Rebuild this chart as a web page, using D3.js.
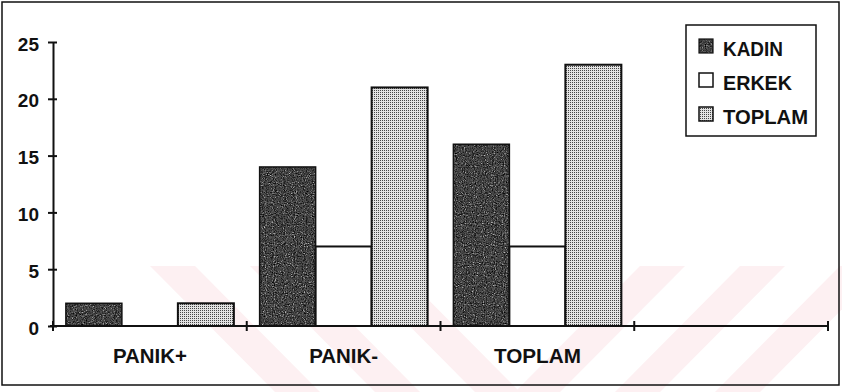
<!DOCTYPE html>
<html><head><meta charset="utf-8">
<script src="https://cdn.jsdelivr.net/npm/d3@7"></script>
<style>
html,body{margin:0;padding:0;background:#fff;}
svg{display:block;}
text{font-family:"Liberation Sans",Arial,sans-serif;font-weight:bold;fill:#111;}
</style></head>
<body>
<svg id="c" width="842" height="392"></svg>
<script>
const categories = ["PANIK+", "PANIK-", "TOPLAM", ""];
const seriesNames = ["KADIN", "ERKEK", "TOPLAM"];
const kadin  = [2, 14, 16, null];
const erkek  = [0, 7, 7, null];
const toplam = [2, 21, 23, null];
const yTicks = [0, 5, 10, 15, 20, 25];

const seriesValues = [kadin, erkek, toplam];
const svg = d3.select("#c");
const defs = svg.append("defs");

// dark noisy texture filter
const f = defs.append("filter").attr("id","noise").attr("x",0).attr("y",0).attr("width","100%").attr("height","100%");
f.append("feTurbulence").attr("type","fractalNoise").attr("baseFrequency",0.9).attr("numOctaves",2).attr("seed",3).attr("result","t");
f.append("feColorMatrix").attr("in","t").attr("type","matrix")
 .attr("values","0.33 0.33 0.33 0 0  0.33 0.33 0.33 0 0  0.33 0.33 0.33 0 0  0 0 0 0 1").attr("result","g");
const ct = f.append("feComponentTransfer").attr("in","g").attr("result","d");
["feFuncR","feFuncG","feFuncB"].forEach(n=>ct.append(n).attr("type","table").attr("tableValues","0 0 0 0.02 0.1 0.45 0.9 1"));
f.append("feComposite").attr("in","d").attr("in2","SourceGraphic").attr("operator","in");

// light dotted pattern
const p = defs.append("pattern").attr("id","dots").attr("patternUnits","userSpaceOnUse").attr("width",2).attr("height",2);
p.append("rect").attr("width",2).attr("height",2).attr("fill","#e2e2e2");
p.append("rect").attr("width",1).attr("height",1).attr("fill","#444");

// watermark stripes
const wm = svg.append("g");
defs.append("clipPath").attr("id","wmclip").append("rect").attr("x",0).attr("y",266).attr("width",842).attr("height",126);
const wg = wm.append("g").attr("clip-path","url(#wmclip)");
const leftStarts = [150, 250, 350];
leftStarts.forEach(x0=>{
  wg.append("polygon").attr("points",`${x0},266 ${x0+45},266 ${x0+45+125},392 ${x0+125},392`).attr("fill","#fdf0f2");
});
const rightStarts = [640, 740, 840];
rightStarts.forEach(x0=>{
  wg.append("polygon").attr("points",`${x0},266 ${x0+45},266 ${x0+45-125},392 ${x0-125},392`).attr("fill","#fdf0f2");
});

// frame
svg.append("rect").attr("x",2).attr("y",2).attr("width",837).attr("height",383)
  .attr("fill","none").attr("stroke","#111").attr("stroke-width",1.5);

const x0 = d3.scaleBand().domain(categories.map((c,i)=>i)).range([53,828]).paddingInner(0).paddingOuter(0);
const x1 = d3.scaleBand().domain(seriesNames.map((s,i)=>i)).range([0,x0.bandwidth()]).paddingInner(0).paddingOuter(0.23);
const y = d3.scaleLinear().domain([0,25]).range([326,42]);

const fills = ["dark","white","light"];
const barsG = svg.append("g");
categories.forEach((c,ci)=>{
  seriesValues.forEach((arr,si)=>{
    const v = arr[ci];
    if (v == null || v === 0) return;
    const bx = x0(ci) + x1(si), bw = x1.bandwidth(), by = y(v), bh = y(0)-y(v);
    if (fills[si]==="dark") {
      barsG.append("rect").attr("x",bx).attr("y",by).attr("width",bw).attr("height",bh).attr("fill","#fff").attr("filter","url(#noise)");
      barsG.append("rect").attr("x",bx).attr("y",by).attr("width",bw).attr("height",bh).attr("fill","none").attr("stroke","#111").attr("stroke-width",1.5);
    } else if (fills[si]==="white") {
      barsG.append("rect").attr("x",bx).attr("y",by).attr("width",bw).attr("height",bh).attr("fill","#fff").attr("stroke","#111").attr("stroke-width",2);
    } else {
      barsG.append("rect").attr("x",bx).attr("y",by).attr("width",bw).attr("height",bh).attr("fill","url(#dots)").attr("stroke","#111").attr("stroke-width",2);
    }
  });
});

// y axis
const ya = svg.append("g").attr("transform","translate(53,0)")
  .call(d3.axisLeft(y).tickValues(yTicks).tickSize(0).tickPadding(14));
ya.select(".domain").attr("stroke","#111").attr("stroke-width",2);
ya.selectAll(".tick line").attr("x1",-5).attr("x2",4).attr("stroke","#111").attr("stroke-width",2);
ya.selectAll(".tick text").attr("dy",null).attr("y",8).attr("font-size",19).attr("font-family","Liberation Sans, Arial, sans-serif").attr("font-weight","bold").attr("fill","#111");

// x axis
const xa = svg.append("g");
xa.append("line").attr("x1",x0.range()[0]-3).attr("x2",x0.range()[1]).attr("y1",y(0)).attr("y2",y(0)).attr("stroke","#111").attr("stroke-width",2);
const bounds = categories.map((c,i)=>x0(i)).concat([x0.range()[1]]);
xa.selectAll("line.tk").data(bounds).join("line").attr("class","tk")
  .attr("x1",d=>d).attr("x2",d=>d).attr("y1",y(0)-5).attr("y2",y(0)+5).attr("stroke","#111").attr("stroke-width",2);
const labelWidths = [74, 69, 87, 0];
xa.selectAll("text").data(categories).join("text")
  .attr("x",(d,i)=>x0(i)+x0.bandwidth()/2).attr("y",363)
  .attr("text-anchor","middle").attr("font-size",21)
  .attr("textLength",(d,i)=>labelWidths[i]||null).attr("lengthAdjust","spacingAndGlyphs")
  .text(d=>d);

// legend
const lg = svg.append("g");
lg.append("rect").attr("x",686).attr("y",25).attr("width",130).attr("height",111).attr("fill","#fff").attr("stroke","#111").attr("stroke-width",1.5);
const legW = [60, 69, 85];
seriesNames.forEach((s,i)=>{
  const yy = 39 + i*34;
  if (fills[i]==="dark") {
    lg.append("rect").attr("x",699).attr("y",yy).attr("width",14).attr("height",14).attr("fill","#fff").attr("filter","url(#noise)");
    lg.append("rect").attr("x",699).attr("y",yy).attr("width",14).attr("height",14).attr("fill","none").attr("stroke","#111").attr("stroke-width",1.2);
  } else {
    lg.append("rect").attr("x",699).attr("y",yy).attr("width",14).attr("height",14)
      .attr("fill",fills[i]==="white"?"#fff":"url(#dots)").attr("stroke","#111").attr("stroke-width",1.5);
  }
  lg.append("text").attr("x",723).attr("y",yy+17).attr("font-size",21)
    .attr("textLength",legW[i]).attr("lengthAdjust","spacingAndGlyphs").text(s);
});
</script>
</body></html>
